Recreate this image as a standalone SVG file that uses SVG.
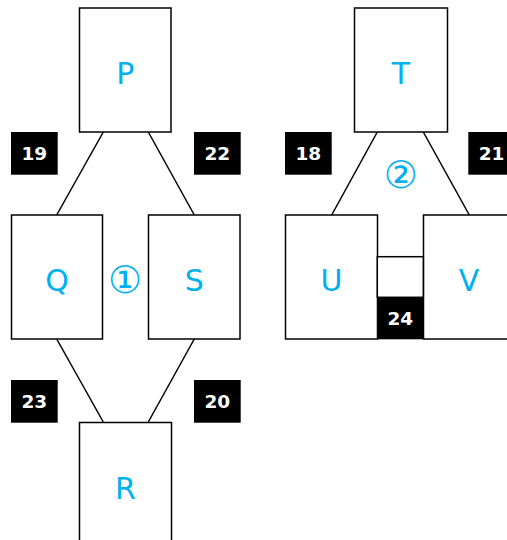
<svg xmlns="http://www.w3.org/2000/svg" width="507" height="540" viewBox="0 0 507 540">
<style>
.box{fill:#fff;stroke:#000;stroke-width:1.5}
.lbl{font-family:"DejaVu Sans",Verdana,sans-serif;font-size:30px;fill:#00b0f0;text-anchor:middle}
.badge{fill:#000}
.num{font-family:"DejaVu Sans",Verdana,sans-serif;font-weight:bold;font-size:18.5px;fill:#fff;text-anchor:middle}
.circ{font-family:"DejaVu Sans","Noto Sans CJK JP",sans-serif;font-size:38px;fill:#00b0f0;text-anchor:middle}
.conn{stroke:#000;stroke-width:1.5;fill:none}
</style>
<rect width="507" height="540" fill="#fff"/>
<g id="connectors">
<line class="conn" x1="103.3" y1="132" x2="56.7" y2="215"/>
<line class="conn" x1="148.3" y1="132" x2="194.3" y2="215"/>
<line class="conn" x1="56.7" y1="339" x2="103.3" y2="422"/>
<line class="conn" x1="194.3" y1="339" x2="148.3" y2="422"/>
<line class="conn" x1="377.3" y1="132" x2="331.7" y2="215"/>
<line class="conn" x1="423.3" y1="132" x2="469.3" y2="215"/>
</g>
<g id="P"><rect class="box" x="79.5" y="8" width="91.5" height="124"/><text class="lbl" x="125.3" y="84">P</text></g>
<g id="Q"><rect class="box" x="11.5" y="215" width="91" height="124"/><text class="lbl" x="57" y="291">Q</text></g>
<g id="S"><rect class="box" x="148.5" y="215" width="91.5" height="124"/><text class="lbl" x="194.3" y="291">S</text></g>
<g id="R"><rect class="box" x="79.5" y="422.5" width="92" height="130"/><text class="lbl" x="125.5" y="499">R</text></g>
<g id="T"><rect class="box" x="354.5" y="8" width="93" height="124"/><text class="lbl" x="401" y="84">T</text></g>
<g id="U"><rect class="box" x="285.5" y="215" width="92" height="124"/><text class="lbl" x="331.5" y="291">U</text></g>
<g id="V"><rect class="box" x="423.5" y="215" width="100" height="124"/><text class="lbl" x="469" y="291">V</text></g>
<g id="mid"><rect class="box" x="377.3" y="256.7" width="46" height="40.6"/></g>
<g id="b24"><rect class="badge" x="377.3" y="297.3" width="46" height="42"/><text class="num" x="400.3" y="325">24</text></g>
<g id="b19"><rect class="badge" x="11" y="132" width="46.7" height="42.7"/><text class="num" x="34.3" y="160">19</text></g>
<g id="b22"><rect class="badge" x="194" y="132" width="46.7" height="42.7"/><text class="num" x="217.3" y="160">22</text></g>
<g id="b18"><rect class="badge" x="285" y="132" width="46.7" height="42.7"/><text class="num" x="308.3" y="160">18</text></g>
<g id="b21"><rect class="badge" x="468.3" y="132" width="46.7" height="42.7"/><text class="num" x="491.6" y="160">21</text></g>
<g id="b23"><rect class="badge" x="11" y="380" width="46.7" height="42.7"/><text class="num" x="34.3" y="408">23</text></g>
<g id="b20"><rect class="badge" x="194" y="380" width="46.7" height="42.7"/><text class="num" x="217.3" y="408">20</text></g>
<g id="m1"><text class="circ" x="125" y="293">①</text></g>
<g id="m2"><text class="circ" x="400.7" y="188">②</text></g>
</svg>
